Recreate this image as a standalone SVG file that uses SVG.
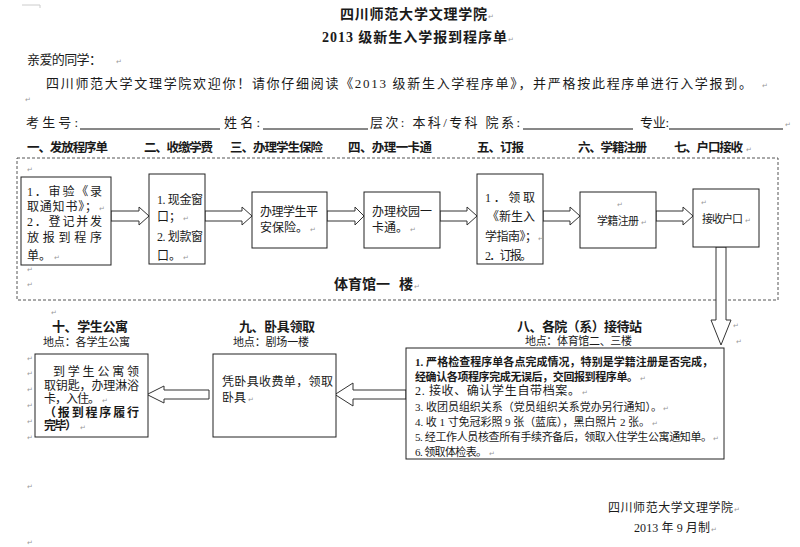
<svg xmlns="http://www.w3.org/2000/svg" width="800" height="547" viewBox="0 0 800 547">
<style>
text{font-family:"Liberation Serif","Noto Sans CJK SC",serif;fill:#1a1a1a}
.t{font-size:12px}
.s{font-size:11px}
.b{font-weight:bold}
.h{font-size:12.5px;font-weight:bold}
.ttl{font-size:14px;font-weight:bold}
.pm{font-family:"DejaVu Sans",sans-serif;font-size:7px;fill:#999}
.box{fill:#fff;stroke:#222;stroke-width:1}
.arr{fill:#fff;stroke:#333;stroke-width:1}
.ul{stroke:#111;stroke-width:1}
</style>
<rect width="800" height="547" fill="#fff"/>
<path d="M22 5H40V8" fill="none" stroke="#ccc" stroke-width="1"/>

<g id="header">
<text class="ttl" x="340" y="19" textLength="147">四川师范大学文理学院</text>
<text class="ttl" x="322" y="42" textLength="185">2013 级新生入学报到程序单</text>
<text class="t" x="27" y="64" textLength="75" style="font-size:13px">亲爱的同学：</text>
<text class="t" x="46" y="88" textLength="706" style="font-size:13px">四川师范大学文理学院欢迎你！请你仔细阅读《2013 级新生入学程序单》，并严格按此程序单进行入学报到。</text>
<text class="t" x="26" y="127" textLength="52" style="font-size:13px">考生号:</text>
<line class="ul" x1="80" y1="129" x2="220" y2="129"/>
<text class="t" x="224" y="127" textLength="36" style="font-size:13px">姓名:</text>
<line class="ul" x1="263" y1="129" x2="368" y2="129"/>
<text class="t" x="370" y="127" textLength="150" style="font-size:13px">层次: 本科/专科 院系:</text>
<line class="ul" x1="523" y1="129" x2="633" y2="129"/>
<text class="t" x="640" y="127" textLength="29" style="font-size:13px">专业:</text>
<line class="ul" x1="669" y1="129" x2="783" y2="129"/>
</g>

<g id="section-titles">
<text class="h" x="27" y="152" textLength="81">一、发放程序单</text>
<text class="h" x="144" y="152" textLength="69">二、收缴学费</text>
<text class="h" x="230" y="152" textLength="93">三、办理学生保险</text>
<text class="h" x="348" y="152" textLength="84">四、办理一卡通</text>
<text class="h" x="477" y="152" textLength="47">五、订报</text>
<text class="h" x="578" y="152" textLength="69">六、学籍注册</text>
<text class="h" x="674" y="152" textLength="69">七、户口接收</text>
</g>

<g id="gym-area">
<rect x="17" y="158" width="761" height="142" fill="none" stroke="#555" stroke-width="1" stroke-dasharray="3,2"/>
<text class="b" x="334" y="289" style="font-size:14px" textLength="56">体育馆一</text>
<text class="b" x="399" y="289" style="font-size:14px">楼</text>
</g>

<g id="connectors">
<polygon class="arr" points="111,211 139,211 139,207 149,216 139,225 139,221 111,221"/>
<polygon class="arr" points="205,211 242,211 242,207 252,216 242,225 242,221 205,221"/>
<polygon class="arr" points="327,211 355,211 355,207 364,216 355,225 355,221 327,221"/>
<polygon class="arr" points="440,211 467,211 467,207 477,216 467,225 467,221 440,221"/>
<polygon class="arr" points="543,211 570,211 570,207 580,216 570,225 570,221 543,221"/>
<polygon class="arr" points="656,211 683,211 683,207 693,216 683,225 683,221 656,221"/>
<polygon class="arr" points="716,247 726,247 726,320 731,320 721,345 711,320 716,320"/>
<polygon class="arr" points="406,390 353,390 353,383 335,394.5 353,406 353,399 406,399"/>
<polygon class="arr" points="209,390 164,390 164,386 147,394.5 164,403 164,399 209,399"/>
</g>

<g id="n1">
<rect class="box" x="21" y="177" width="90" height="88"/>
<text class="t" x="27" y="196" textLength="75">1．审验《录</text>
<text class="t" x="27" y="211" textLength="70">取通知书》；</text>
<text class="t" x="27" y="226" textLength="75">2．登记并发</text>
<text class="t" x="27" y="242" textLength="75">放报到程序</text>
<text class="t" x="27" y="260">单。</text>
</g>
<g id="n2">
<rect class="box" x="149" y="174" width="56" height="90"/>
<text class="t" x="157" y="204" textLength="46">1. 现金窗</text>
<text class="t" x="157" y="221">口；</text>
<text class="t" x="157" y="241" textLength="46">2. 划款窗</text>
<text class="t" x="157" y="260">口。</text>
</g>
<g id="n3">
<rect class="box" x="252" y="192" width="75" height="56"/>
<text class="t" x="260" y="216" textLength="58">办理学生平</text>
<text class="t" x="260" y="232">安保险。</text>
</g>
<g id="n4">
<rect class="box" x="364" y="192" width="76" height="56"/>
<text class="t" x="372" y="216" textLength="60">办理校园一</text>
<text class="t" x="372" y="232">卡通。</text>
</g>
<g id="n5">
<rect class="box" x="477" y="174" width="66" height="90"/>
<text class="t" x="485" y="202" textLength="50">1．领取</text>
<text class="t" x="487" y="221" textLength="48">《新生入</text>
<text class="t" x="485" y="241" textLength="52">学指南》；</text>
<text class="t" x="485" y="260" textLength="47">2．订报。</text>
</g>
<g id="n6">
<rect class="box" x="580" y="192" width="76" height="56"/>
<text class="s" x="597" y="225" textLength="42">学籍注册</text>
</g>
<g id="n7">
<rect class="box" x="693" y="189" width="66" height="58"/>
<text class="s" x="702" y="223" textLength="41">接收户口</text>
</g>

<g id="n8">
<text class="h" x="517" y="331" textLength="125" style="font-size:13px">八、各院（系）接待站</text>
<text class="s" x="525" y="345" textLength="107">地点：体育馆二、三楼</text>
<rect class="box" x="406" y="348" width="318" height="111"/>
<text class="s b" x="415" y="366" textLength="298">1. 严格检查程序单各点完成情况，特别是学籍注册是否完成，</text>
<text class="s b" x="415" y="381" textLength="223">经确认各项程序完成无误后，交回报到程序单。</text>
<text class="t" x="415" y="395" textLength="165">2. 接收、确认学生自带档案。</text>
<text class="s" x="415" y="411" textLength="247">3. 收团员组织关系（党员组织关系党办另行通知）。</text>
<text class="s" x="415" y="426" textLength="235">4. 收 1 寸免冠彩照 9 张（蓝底），黑白照片 2 张。</text>
<text class="s" x="415" y="441" textLength="297">5. 经工作人员核查所有手续齐备后，领取入住学生公寓通知单。</text>
<text class="s" x="415" y="456" textLength="72">6. 领取体检表。</text>
</g>
<g id="n9">
<text class="h" x="239" y="331" textLength="76" style="font-size:13px">九、卧具领取</text>
<text class="s" x="233" y="346" textLength="76">地点：剧场一楼</text>
<rect class="box" x="213" y="354" width="123" height="83"/>
<text class="t" x="222" y="386" textLength="111">凭卧具收费单，领取</text>
<text class="t" x="222" y="402">卧具</text>
</g>
<g id="n10">
<text class="h" x="52" y="331" textLength="76" style="font-size:13px">十、学生公寓</text>
<text class="s" x="43" y="346" textLength="87">地点：各学生公寓</text>
<rect class="box" x="35" y="354" width="113" height="83"/>
<text class="t" x="53" y="376" textLength="86">到学生公寓领</text>
<text class="t" x="44" y="390" textLength="95">取钥匙，办理淋浴</text>
<text class="t" x="44" y="403" textLength="56">卡，入住。</text>
<text class="t b" x="44" y="417" textLength="95">（报到程序履行</text>
<text class="t b" x="44" y="430" textLength="33">完毕）</text>
</g>

<g id="footer">
<text class="t" x="608" y="512" textLength="125">四川师范大学文理学院</text>
<text class="t" x="634" y="532" textLength="76">2013 年 9 月制</text>
</g>

<g id="marks">
<text class="pm" x="488" y="19">↵</text>
<text class="pm" x="508" y="42">↵</text>
<text class="pm" x="116" y="64">↵</text>
<text class="pm" x="762" y="88">↵</text>
<text class="pm" x="25" y="102">↵</text>
<text class="pm" x="785" y="127">↵</text>
<text class="pm" x="746" y="152">↵</text>
<text class="pm" x="27" y="172">↵</text>
<text class="pm" x="27" y="272">↵</text>
<text class="pm" x="27" y="287">↵</text>
<text class="pm" x="99" y="211">↵</text>
<text class="pm" x="54" y="260">↵</text>
<text class="pm" x="183" y="221">↵</text>
<text class="pm" x="183" y="260">↵</text>
<text class="pm" x="310" y="232">↵</text>
<text class="pm" x="410" y="232">↵</text>
<text class="pm" x="538" y="241">↵</text>
<text class="pm" x="617" y="207">↵</text>
<text class="pm" x="641" y="225">↵</text>
<text class="pm" x="701" y="205">↵</text>
<text class="pm" x="745" y="223">↵</text>
<text class="pm" x="414" y="289">↵</text>
<text class="pm" x="733" y="328">↵</text>
<text class="pm" x="736" y="344">↵</text>
<text class="pm" x="51" y="315">↵</text>
<text class="pm" x="27" y="361">↵</text>
<text class="pm" x="27" y="376">↵</text>
<text class="pm" x="27" y="392">↵</text>
<text class="pm" x="27" y="408">↵</text>
<text class="pm" x="27" y="424">↵</text>
<text class="pm" x="27" y="440">↵</text>
<text class="pm" x="102" y="403">↵</text>
<text class="pm" x="80" y="430">↵</text>
<text class="pm" x="248" y="402">↵</text>
<text class="pm" x="640" y="381">↵</text>
<text class="pm" x="582" y="395">↵</text>
<text class="pm" x="663" y="411">↵</text>
<text class="pm" x="652" y="426">↵</text>
<text class="pm" x="713" y="441">↵</text>
<text class="pm" x="489" y="456">↵</text>
<text class="pm" x="734" y="512">↵</text>
<text class="pm" x="711" y="532">↵</text>
<text class="pm" x="27" y="489">↵</text>
<text class="pm" x="27" y="545">↵</text>
</g>
</svg>
